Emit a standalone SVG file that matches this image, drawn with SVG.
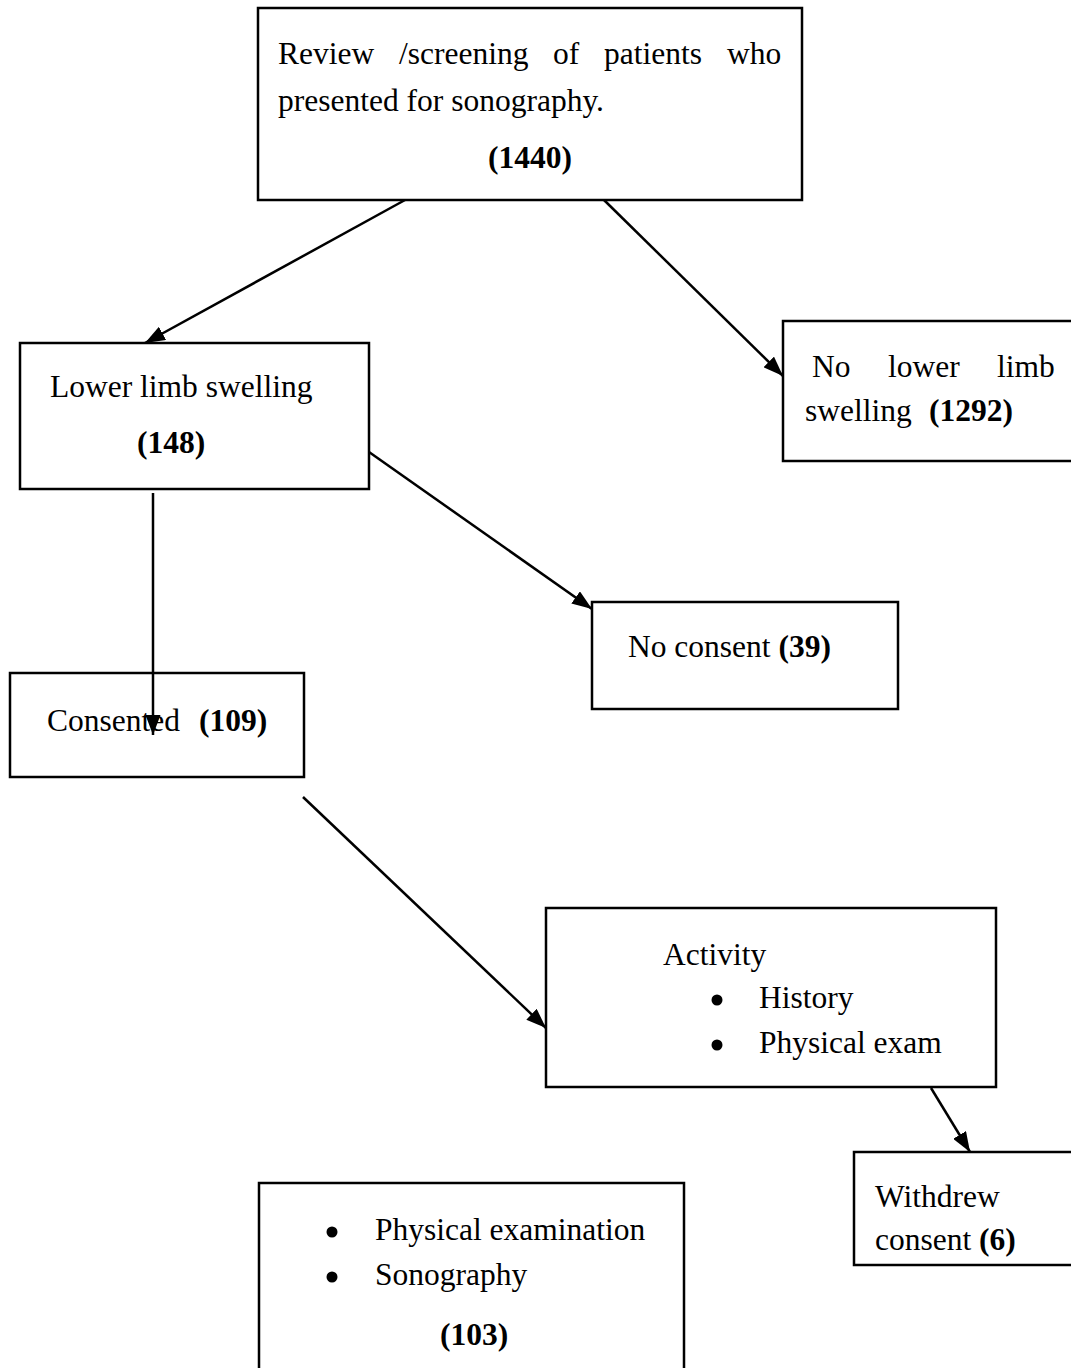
<svg xmlns="http://www.w3.org/2000/svg" width="1071" height="1368" viewBox="0 0 1071 1368">
<defs>
<style>
.box{fill:#fff;stroke:#000;stroke-width:2.5}
.t{font-family:"Liberation Serif","Times New Roman",serif;font-size:31.5px;fill:#000}
.b{font-weight:bold}
.edge{stroke:#000;stroke-width:2.5;fill:none;marker-end:url(#arr)}
.dot{fill:#000}
</style>
<marker id="arr" markerUnits="userSpaceOnUse" markerWidth="20" markerHeight="15" refX="20" refY="7.5" orient="auto" viewBox="0 0 20 15">
<path d="M0,0 L20,7.5 L0,15 z" fill="#000"/>
</marker>
</defs>
<rect width="1071" height="1368" fill="#fff"/>

<g id="n-review">
<rect class="box" x="258" y="8" width="544" height="192"/>
<text class="t" y="64"><tspan x="278">Review</tspan><tspan x="399">/screening</tspan><tspan x="553">of</tspan><tspan x="604">patients</tspan><tspan x="727">who</tspan></text>
<text class="t" x="278" y="111">presented for sonography.</text>
<text class="t b" x="488" y="168">(1440)</text>
</g>

<g id="n-swelling">
<rect class="box" x="20" y="343" width="349" height="146"/>
<text class="t" x="50" y="397">Lower limb swelling</text>
<text class="t b" x="137" y="453">(148)</text>
</g>

<g id="n-noswelling">
<rect class="box" x="783" y="321" width="300" height="140"/>
<text class="t" y="377"><tspan x="812">No</tspan><tspan x="888">lower</tspan><tspan x="997">limb</tspan></text>
<text class="t" x="805" y="421">swelling<tspan class="b" x="929">(1292)</tspan></text>
</g>

<g id="n-noconsent">
<rect class="box" x="592" y="602" width="306" height="107"/>
<text class="t" x="628" y="657">No consent <tspan class="b">(39)</tspan></text>
</g>

<g id="n-consented">
<rect class="box" x="10" y="673" width="294" height="104"/>
<text class="t" x="47" y="731">Consented<tspan class="b" x="199">(109)</tspan></text>
</g>

<g id="n-activity">
<rect class="box" x="546" y="908" width="450" height="179"/>
<text class="t" x="663" y="965">Activity</text>
<circle class="dot" cx="717" cy="1000" r="5.5"/>
<text class="t" x="759" y="1008">History</text>
<circle class="dot" cx="717" cy="1045" r="5.5"/>
<text class="t" x="759" y="1053">Physical exam</text>
</g>

<g id="n-withdrew">
<rect class="box" x="854" y="1152" width="230" height="113"/>
<text class="t" x="875" y="1207">Withdrew</text>
<text class="t" x="875" y="1250">consent <tspan class="b">(6)</tspan></text>
</g>

<g id="n-final">
<rect class="box" x="259" y="1183" width="425" height="200"/>
<circle class="dot" cx="332" cy="1232" r="5.5"/>
<text class="t" x="375" y="1240">Physical examination</text>
<circle class="dot" cx="332" cy="1277" r="5.5"/>
<text class="t" x="375" y="1285">Sonography</text>
<text class="t b" x="440" y="1345">(103)</text>
</g>

<g id="connectors">
<line class="edge" x1="405" y1="200" x2="145" y2="343"/>
<line class="edge" x1="604" y1="200" x2="783" y2="376"/>
<line class="edge" x1="369" y1="452" x2="592" y2="609"/>
<line class="edge" x1="153" y1="493" x2="153" y2="735"/>
<line class="edge" x1="303" y1="797" x2="546" y2="1028"/>
<line class="edge" x1="931" y1="1088" x2="970" y2="1152"/>
</g>
</svg>
